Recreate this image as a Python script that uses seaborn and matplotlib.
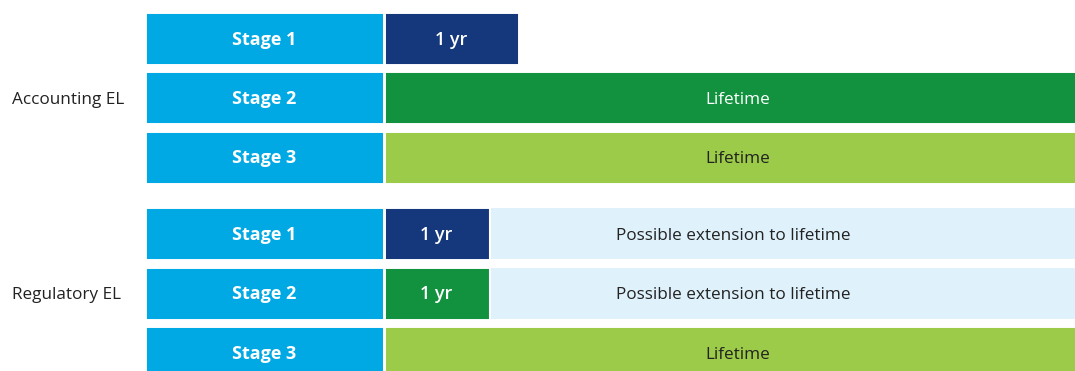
import matplotlib
matplotlib.use("Agg")
import matplotlib.pyplot as plt
import seaborn as sns

# Expected-loss horizon by stage: accounting vs regulatory view
groups = ["Accounting EL", "Regulatory EL"]
stages = ["Stage 1", "Stage 2", "Stage 3", "Stage 1", "Stage 2", "Stage 3"]
horizon_labels = ["1 yr", "Lifetime", "Lifetime", "1 yr", "1 yr", "Lifetime"]
horizon_lengths = [135, 700, 700, 106, 106, 700]
extension_labels = ["", "", "", "Possible extension to lifetime",
                    "Possible extension to lifetime", ""]
extension_lengths = [0, 0, 0, 594, 594, 0]

NAVY = "#15387c"
GREEN = "#12913f"
LIME = "#9bcb48"
CYAN = "#00a9e3"
PALE = "#dff1fb"
DARK = "#222222"

row_horizon_colors = [NAVY, GREEN, LIME, NAVY, GREEN, LIME]
row_text_colors = ["white", "white", DARK, "white", "white", DARK]

sns.set_theme(style="white")
plt.rcParams["font.family"] = ["Open Sans", "DejaVu Sans"]

fig = plt.figure(figsize=(10.75, 3.71), dpi=100)
ax = fig.add_axes([0, 0, 1, 1])
ax.axis("off")

row_y = [38.5, 97.5, 157.0, 233.5, 293.0, 352.5]
bar_h = 53
stage_left, stage_w = 145, 238.5
edge = dict(edgecolor="white", linewidth=2.1)

BOLD_PT, REG_PT = 13.0, 12.3


def label(x, y, s, size, weight="normal", color=DARK, ha="center"):
    # place the baseline so the capitals sit centred on y
    cap = 0.714 * size * 100 / 72
    ax.text(x, y + cap / 2, s, ha=ha, va="baseline", color=color,
            fontsize=size, fontweight=weight)


for i, y in enumerate(row_y):
    ax.barh(y, stage_w, left=stage_left, height=bar_h, color=CYAN, **edge)
    label(stage_left + stage_w / 2, y, stages[i], BOLD_PT, "bold", "white")

    h_left = stage_left + stage_w
    ax.barh(y, horizon_lengths[i], left=h_left, height=bar_h,
            color=row_horizon_colors[i], **edge)
    span = horizon_lengths[i] + extension_lengths[i]
    if extension_lengths[i] > 0:
        e_left = h_left + horizon_lengths[i]
        ax.barh(y, extension_lengths[i], left=e_left, height=bar_h,
                color=PALE, edgecolor="white", linewidth=1.5)
        label(h_left + span / 2, y, extension_labels[i], REG_PT)
    if horizon_labels[i] == "1 yr":
        label(h_left + horizon_lengths[i] / 2, y, horizon_labels[i], BOLD_PT,
              "semibold", row_text_colors[i])
    else:
        label(h_left + horizon_lengths[i] / 2 + 4, y, horizon_labels[i],
              REG_PT, "normal", row_text_colors[i])

for g, y in zip(groups, [row_y[1], row_y[4]]):
    label(12, y, g, REG_PT, ha="left")

ax.set_xlim(0, 1075)
ax.set_ylim(371, 0)

fig.savefig("out.png", dpi=100)
